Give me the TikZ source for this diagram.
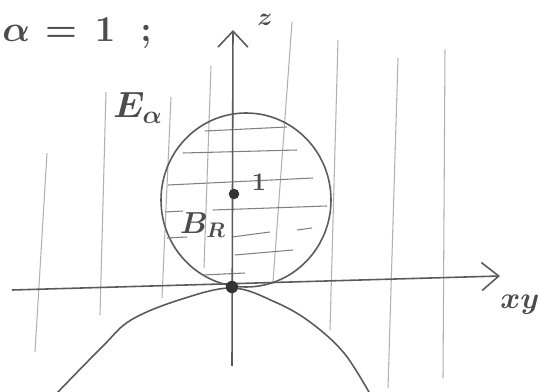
\documentclass[tikz,border=0pt]{standalone}
\usepackage{amsmath, amssymb}
\usepackage{tikz}
\usetikzlibrary{arrows.meta, positioning, calc}
\definecolor{pencil}{HTML}{5A5A5A}
\definecolor{pencillight}{HTML}{B0B0B0}
\definecolor{pencilmid}{HTML}{808080}

\begin{document}
\begin{tikzpicture}[x=0.02cm, y=-0.02cm,
  axis/.style={draw=pencil, line width=0.9pt},
  fibre/.style={draw=pencillight, line width=0.6pt},
  hatch/.style={draw=pencilmid, line width=0.6pt},
  dot/.style={circle, fill=black!80, inner sep=0pt, minimum size=7pt},
  lbl/.style={font=\huge\boldmath, text=black!70, inner sep=0pt}
]
  \useasboundingbox (0,0) rectangle (539,392);

  % Vertical lines
  \foreach \xa/\ya/\xb/\yb in {47/153/35/352, 106/92/100/315,
      171/97/162/298, 211/66/204/268, 292/22/273/282,
      338/40/330/330, 398/58/388/388, 445/50/443/378}
    \draw[fibre] (\xa,\ya) -- (\xb,\yb);

  % Ball
  \coordinate (ctr) at (246,200);
  \draw[draw=pencil, line width=0.9pt] (ctr) ellipse [x radius=85, y radius=87];
  \foreach \xa/\ya/\xb/\yb in {205/131/287/127, 183/153/297/150,
      168/185/313/178, 165/212/183/211, 213/210/327/206,
      167/238/187/237, 232/237/270/232, 297/230/312/228,
      235/255/293/250, 203/275/245/273}
    \draw[hatch] (\xa,\ya) -- (\xb,\yb);

  % Axes
  \coordinate (zbot) at (232,366);
  \coordinate (ztop) at (233,30);
  \coordinate (hl) at (12,290);
  \coordinate (hr) at (500,276);
  \draw[axis, -{Straight Barb[length=0.32cm, width=0.6cm]}] (zbot) -- (ztop);
  \draw[axis, -{Straight Barb[length=0.34cm, width=0.56cm]}] (hl) -- (hr);

  % Lower curve
  \draw[draw=pencil, line width=0.9pt] plot[smooth, tension=0.6] coordinates
    {(57,393) (103,346) (131,320) (179,300) (232,288) (275,302) (310,322) (344,353) (370,394)};

  % Points
  \node[dot] (orig) at (232,287) {};
  \node[dot, minimum size=6pt] (one) at (234,194) {};

  % Labels
  \node[lbl, anchor=base west] (alpha) at (2,42)
    {$\alpha$\hspace{0.3cm}$=$\hspace{0.36cm}$1$\hspace{0.5cm}$;$};
  \node[lbl, font=\Large\boldmath] (zlbl) at (265,20) {$z$};
  \node[lbl] (ealpha) at (138,108) {$E_\alpha$};
  \node[lbl, font=\LARGE\boldmath] (ball) at (203,225) {$B_R$};
  \node[lbl, font=\Large\boldmath] (onelbl) at (259,182) {$1$};
  \node[lbl, font=\LARGE\boldmath] (xylbl) at (520,305) {$xy$};
\end{tikzpicture}
\end{document}
